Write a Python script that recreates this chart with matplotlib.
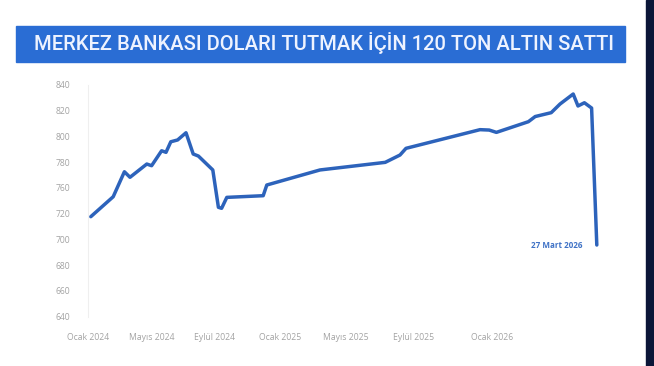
import matplotlib
matplotlib.use("Agg")
import matplotlib.pyplot as plt
from matplotlib.patches import Rectangle

# gold reserves (tons), x is position along the original (uneven) time axis
obs_x = [0.7, 6.3, 9.1, 10.5, 14.7, 15.9, 18.4, 19.5, 20.7, 22.4, 24.5, 26.3,
         27.6, 31.2, 32.6, 33.4, 34.7, 43.8, 44.7, 58.0, 74.3, 78.0, 79.5,
         98.0, 100.3, 102.1, 110.1, 111.8, 115.8, 118.0, 121.3, 122.5, 124.1,
         125.9, 127.2]
tons = [717.7, 733.2, 752.6, 748.3, 758.6, 757.3, 768.9, 767.7, 775.9, 777.3,
        782.9, 766.4, 764.8, 754.0, 725.0, 724.2, 732.7, 734.0, 742.3, 754.0,
        759.9, 765.6, 770.8, 785.3, 785.0, 783.2, 791.5, 795.5, 798.5, 805.2,
        813.0, 803.7, 806.2, 802.1, 695.7]

month_pos = [0, 16, 31.5, 48, 64.5, 81.5, 101]
month_labels = ["Ocak 2024", "Mayıs 2024", "Eylül 2024", "Ocak 2025",
                "Mayıs 2025", "Eylül 2025", "Ocak 2026"]
y_pos = [640, 660, 680, 700, 720, 740, 760, 780, 800, 820]
y_labels = ["640", "660", "680", "700", "720", "760", "780", "800", "820", "840"]

title = "MERKEZ BANKASI DOLARI TUTMAK İÇİN 120 TON ALTIN SATTI"
end_label = "27 Mart 2026"

W, H = 654, 366
fig = plt.figure(figsize=(W / 100, H / 100), dpi=100)
fig.patch.set_facecolor("white")

# title bar
fig.patches.append(Rectangle((16 / W, 1 - 62 / H), 609 / W, 36 / H,
                             transform=fig.transFigure, color="#2a6dd4", zorder=1))
fig.text(323.5 / W, 1 - 43 / H, title, ha="center", va="center",
         fontsize=14.5, family="Roboto", fontweight="medium", color="#eef3ff")

# dark strip on the right edge
fig.patches.append(Rectangle((646 / W, 0), 8 / W, 1, transform=fig.transFigure,
                             color="#0b1638", zorder=1))

ax = fig.add_axes([88 / W, 1 - 316.7 / H, 512 / W, 231.7 / H])
ax.plot(obs_x, tons, color="#2d63bb", lw=2.5, solid_joinstyle="round",
        solid_capstyle="round")
ax.text(obs_x[-1] - 3.5, tons[-1], end_label, ha="right", va="center",
        fontsize=5.8, family="Open Sans", fontweight="bold", color="#3f72c6")

ax.set_xlim(0, 128)
ax.set_ylim(640, 820)
ax.set_yticks(y_pos)
ax.set_yticklabels(y_labels)
ax.set_xticks(month_pos)
ax.set_xticklabels(month_labels)
ax.tick_params(length=0, labelsize=6.2, labelcolor="#a3a3a3")
ax.tick_params(axis="y", pad=13)
ax.tick_params(axis="x", pad=12)
for lab in ax.get_xticklabels() + ax.get_yticklabels():
    lab.set_family("Open Sans")

for s in ["top", "right", "bottom"]:
    ax.spines[s].set_visible(False)
ax.spines["left"].set_color("#efefef")
ax.spines["left"].set_linewidth(0.8)

fig.savefig("out.png", dpi=100)
